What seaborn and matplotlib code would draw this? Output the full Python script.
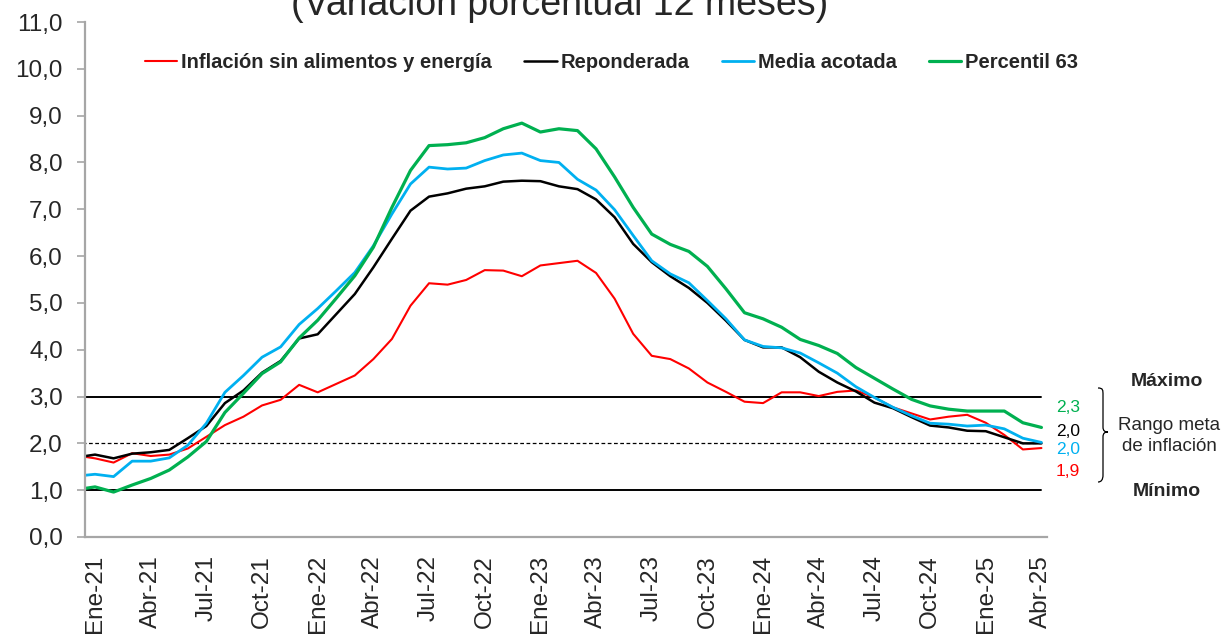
import pandas as pd
import matplotlib
matplotlib.use('Agg')
import matplotlib.pyplot as plt
from matplotlib.path import Path
from matplotlib.patches import PathPatch
import seaborn as sns

# meses: Dic-20 (recortado por el eje) a Abr-25
month_names = ['Ene', 'Feb', 'Mar', 'Abr', 'May', 'Jun',
               'Jul', 'Ago', 'Sep', 'Oct', 'Nov', 'Dic']
months = ['Dic-20'] + [f'{m}-{y}' for y in range(21, 26) for m in month_names][:52]

sin_alim_energia = [1.74, 1.68, 1.59, 1.79, 1.73, 1.76, 1.89, 2.14, 2.39, 2.57, 2.81,
                    2.93, 3.25, 3.09, 3.27, 3.45, 3.80, 4.23, 4.94, 5.42, 5.39, 5.49,
                    5.70, 5.69, 5.57, 5.80, 5.85, 5.90, 5.64, 5.09, 4.34, 3.87, 3.80,
                    3.60, 3.30, 3.10, 2.89, 2.86, 3.09, 3.09, 3.01, 3.10, 3.13, 2.98,
                    2.77, 2.64, 2.51, 2.57, 2.61, 2.44, 2.18, 1.87, 1.90]
reponderada = [1.70, 1.76, 1.68, 1.78, 1.81, 1.86, 2.11, 2.37, 2.86, 3.13, 3.51,
               3.76, 4.24, 4.33, 4.76, 5.19, 5.76, 6.37, 6.97, 7.27, 7.34, 7.44,
               7.49, 7.59, 7.61, 7.60, 7.49, 7.43, 7.21, 6.83, 6.26, 5.87, 5.57,
               5.32, 5.00, 4.62, 4.21, 4.05, 4.05, 3.84, 3.53, 3.30, 3.11, 2.87,
               2.75, 2.56, 2.38, 2.34, 2.27, 2.26, 2.13, 2.00, 2.00]
media_acotada = [1.30, 1.34, 1.29, 1.62, 1.62, 1.69, 1.96, 2.43, 3.09, 3.45, 3.84,
                 4.06, 4.54, 4.88, 5.26, 5.65, 6.22, 6.90, 7.54, 7.90, 7.86, 7.88,
                 8.04, 8.16, 8.20, 8.04, 8.00, 7.64, 7.41, 6.99, 6.44, 5.90, 5.62,
                 5.43, 5.05, 4.66, 4.21, 4.07, 4.04, 3.93, 3.72, 3.50, 3.21, 2.98,
                 2.77, 2.59, 2.43, 2.41, 2.37, 2.39, 2.31, 2.11, 2.02]
percentil_63 = [1.01, 1.07, 0.96, 1.11, 1.25, 1.43, 1.71, 2.04, 2.66, 3.07, 3.49,
                3.74, 4.25, 4.63, 5.10, 5.58, 6.19, 7.04, 7.83, 8.36, 8.38, 8.42,
                8.53, 8.72, 8.84, 8.65, 8.72, 8.68, 8.29, 7.69, 7.04, 6.47, 6.25,
                6.10, 5.78, 5.30, 4.79, 4.66, 4.48, 4.22, 4.09, 3.92, 3.62, 3.39,
                3.16, 2.94, 2.80, 2.73, 2.69, 2.69, 2.69, 2.44, 2.34]

series_names = ['Inflación sin alimentos y energía', 'Reponderada',
                'Media acotada', 'Percentil 63']
series_values = [sin_alim_energia, reponderada, media_acotada, percentil_63]
colors = ['#FF0000', '#000000', '#00B0F0', '#00B050']
widths = [1.5, 1.8, 2.0, 2.3]

meta_min, meta_centro, meta_max = 1.0, 2.0, 3.0
yticks = list(range(0, 12))

pos = list(range(-1, len(months) - 1))   # Ene-21 = 0
df = pd.DataFrame({'pos': pos * 4,
                   'valor': sum(series_values, []),
                   'serie': [n for n in series_names for _ in pos]})

sns.set_style('white')
plt.rcParams['font.family'] = ['Liberation Sans', 'DejaVu Sans']

fig = plt.figure(figsize=(12.26, 6.35), dpi=100)
ax = fig.add_axes([85 / 1226, 1 - 537 / 635, (1047 - 85) / 1226, (537 - 22) / 635])

# rango meta
ax.plot([pos[0], pos[-1]], [meta_max] * 2, color='black', lw=1.4, zorder=1)
ax.plot([pos[0], pos[-1]], [meta_min] * 2, color='black', lw=1.4, zorder=1)
ax.plot([pos[0], pos[-1]], [meta_centro] * 2, color='black', lw=0.9,
        ls=(0, (3, 2)), zorder=1)

for name, col, lw in zip(series_names, colors, widths):
    sns.lineplot(data=df[df['serie'] == name], x='pos', y='valor', color=col,
                 linewidth=lw, label=name, ax=ax, zorder=2)

ax.set_xlim(-0.54, 51.3)
ax.set_ylim(0, 11)
ax.set_xlabel('')
ax.set_ylabel('')

xt = list(range(0, 52, 3))
ax.set_xticks(xt)
ax.set_xticklabels([months[i + 1] for i in xt], rotation=90, fontsize=17.5)
ax.set_yticks(yticks)
ax.set_yticklabels([f'{v:.1f}'.replace('.', ',') for v in yticks], fontsize=17.5)
ax.tick_params(axis='x', length=0, pad=13)
ax.tick_params(axis='y', length=6, width=1.2, color='#A6A6A6', pad=10, direction='out', left=True)

for s in ['top', 'right']:
    ax.spines[s].set_visible(False)
for s in ['left', 'bottom']:
    ax.spines[s].set_color('#A6A6A6')
    ax.spines[s].set_linewidth(1.6)

ax.legend(loc='center', bbox_to_anchor=(0.499, 0.902), bbox_transform=fig.transFigure,
          ncol=4, frameon=False, handlelength=1.6, handletextpad=0.2,
          columnspacing=1.6, prop={'weight': 'bold', 'size': 14.5})

fig.text(560 / 1226, 1 - 15 / 635, '(Variación porcentual 12 meses)', fontsize=27,
         ha='center', va='baseline')

# últimos valores
label_y = [472, 432, 449, 408]
for vals, col, ly in zip(series_values, colors, label_y):
    fig.text(1080 / 1226, 1 - ly / 635, f'{vals[-1]:.1f}'.replace('.', ','),
             color=col, fontsize=12.5, ha='right', va='center')

fig.text(1167 / 1226, 1 - 382 / 635, 'Máximo', fontsize=14, weight='bold',
         ha='center', va='center')
fig.text(1169 / 1226, 1 - 436 / 635, 'Rango meta\nde inflación', fontsize=13.5,
         ha='center', va='center', linespacing=1.25)
fig.text(1167 / 1226, 1 - 492 / 635, 'Mínimo', fontsize=14, weight='bold',
         ha='center', va='center')

# llave
def fp(x, y):
    return (x / 1226, 1 - y / 635)

verts = [fp(1098, 388), fp(1103, 388), fp(1103, 390), fp(1103, 395),
         fp(1103, 427),
         fp(1103, 431), fp(1105, 432), fp(1108, 432),
         fp(1105, 432), fp(1103, 433), fp(1103, 437),
         fp(1103, 475),
         fp(1103, 480), fp(1101, 482), fp(1098, 482)]
codes = [Path.MOVETO, Path.CURVE4, Path.CURVE4, Path.CURVE4,
         Path.LINETO,
         Path.CURVE4, Path.CURVE4, Path.CURVE4,
         Path.CURVE4, Path.CURVE4, Path.CURVE4,
         Path.LINETO,
         Path.CURVE4, Path.CURVE4, Path.CURVE4]
fig.add_artist(PathPatch(Path(verts, codes), transform=fig.transFigure,
                         fill=False, lw=0.9, color='black'))

fig.savefig('out.png', dpi=100)
